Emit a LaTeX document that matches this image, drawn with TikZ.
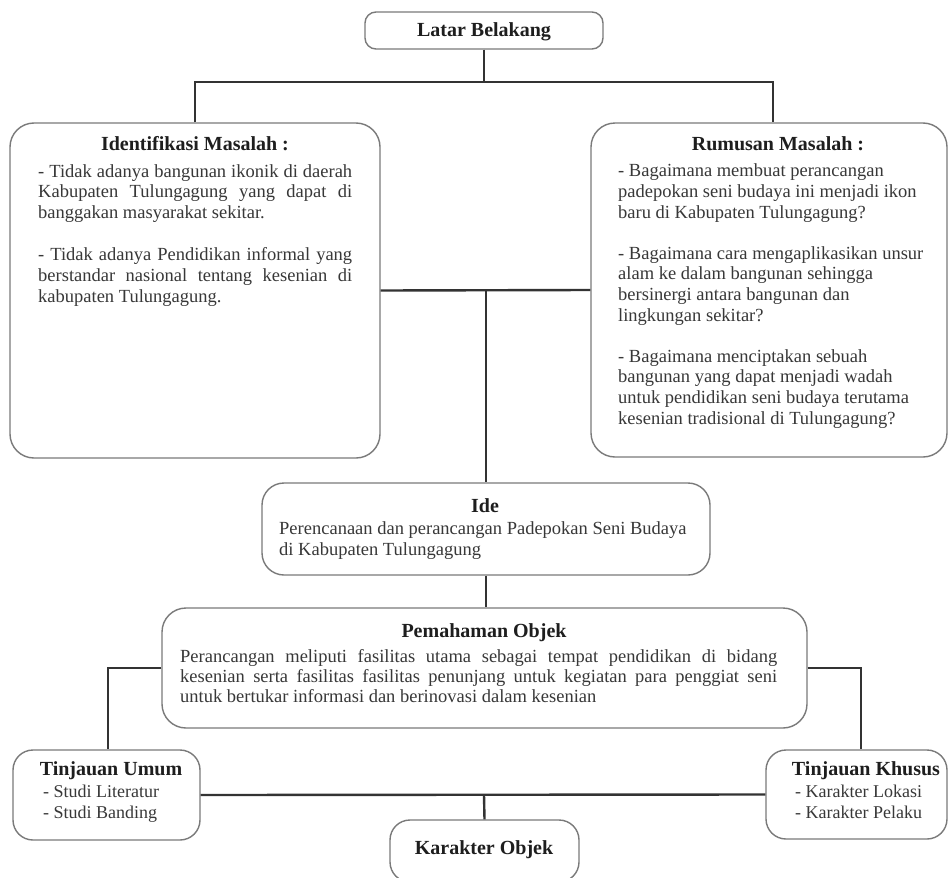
\documentclass[tikz,border=0pt]{standalone}
\usepackage{fontspec}
\setmainfont{Liberation Serif}
\definecolor{boxgray}{HTML}{7A7A7A}
\definecolor{wiregray}{HTML}{333333}
\definecolor{textcol}{HTML}{383838}
\definecolor{titlecol}{HTML}{1E1E1E}
\begin{document}
\begin{tikzpicture}[x=1pt,y=-1pt,
  box/.style={draw=boxgray,line width=1.4pt,rounded corners=#1,fill=white,inner sep=0pt},
  box/.default=20pt,
  wire/.style={draw=wiregray,line width=2.4pt},
  ttl/.style={font=\fontsize{20}{22}\selectfont\bfseries,text=titlecol,inner sep=0pt,anchor=base},
  body/.style={font=\fontsize{18.5}{20.6}\selectfont,text=textcol,inner sep=0pt,anchor=base west,align=left},
  small/.style={font=\fontsize{18}{20.5}\selectfont,text=textcol,inner sep=0pt,anchor=base west,align=left},
]
\useasboundingbox[fill=white] (0,0) rectangle (948,878);

% boxes
\node[box=11pt,minimum width=238pt,minimum height=37pt] (lb) at (484,30.5) {};
\node[box=24pt,minimum width=370pt,minimum height=335pt] (im) at (195,290.5) {};
\node[box=24pt,minimum width=356pt,minimum height=334pt] (rm) at (769,290) {};
\node[box=22pt,minimum width=448pt,minimum height=92pt] (ide) at (486,529) {};
\node[box=24pt,minimum width=645pt,minimum height=120pt] (pem) at (484.5,668) {};
\node[box=20pt,minimum width=187pt,minimum height=90pt] (tu) at (106.5,795) {};
\node[box=20pt,minimum width=181pt,minimum height=89pt] (tk) at (856.5,794.5) {};
\node[box=20pt,minimum width=189pt,minimum height=62pt] (ko) at (484.5,851) {};

% connectors
\coordinate (j1) at (484,82);
\coordinate (j2) at (486,290);
\coordinate (j3) at (484,795);
\draw[wire] (lb.south) -- (j1);
\draw[wire] (im.north) |- (j1) -| ([xshift=4pt]rm.north);
\draw[wire] (im.east) -- (rm.west);
\draw[wire] (j2) -- (ide.north);
\draw[wire] (ide.south) -- (ide.south |- pem.north);
\draw[wire] (pem.west) -| ([xshift=1.5pt]tu.north);
\draw[wire] (pem.east) -| ([xshift=4.5pt]tk.north);
\draw[wire] (tu.east) -- (tk.west);
\draw[wire] (j3) -- (ko.north);

% texts (multi-line nodes are placed by the baseline of their last line)
\node[ttl] (lbt) at (484,36) {Latar Belakang};

\node[ttl] (imt) at (195,150) {Identifikasi Masalah :};
\node[body] (imb) at (38,302) {%
\makebox[314pt][s]{- Tidak adanya bangunan ikonik di daerah}\\
\makebox[314pt][s]{Kabupaten Tulungagung yang dapat di}\\
banggakan masyarakat sekitar.\\[22pt]
\makebox[314pt][s]{- Tidak adanya Pendidikan informal yang}\\
\makebox[314pt][s]{berstandar nasional tentang kesenian di}\\
kabupaten Tulungagung.};

\node[ttl] (rmt) at (778,150) {Rumusan Masalah :};
\node[body] (rmb) at (618,424) {%
- Bagaimana membuat perancangan\\
padepokan seni budaya ini menjadi ikon\\
baru di Kabupaten Tulungagung?\\[20.6pt]
- Bagaimana cara mengaplikasikan unsur\\
alam ke dalam bangunan sehingga\\
bersinergi antara bangunan dan\\
lingkungan sekitar?\\[20.6pt]
- Bagaimana menciptakan sebuah\\
bangunan yang dapat menjadi wadah\\
untuk pendidikan seni budaya terutama\\
kesenian tradisional di Tulungagung?};

\node[ttl] (idet) at (485,512) {Ide};
\node[body] (ideb) at (279,555) {Perencanaan dan perancangan Padepokan Seni Budaya\\
di Kabupaten Tulungagung};

\node[ttl] (pemt) at (484,637) {Pemahaman Objek};
\node[body,font=\fontsize{18.5}{20}\selectfont] (pemb) at (180,702) {%
\makebox[597pt][s]{Perancangan meliputi fasilitas utama sebagai tempat pendidikan di bidang}\\
\makebox[597pt][s]{kesenian serta fasilitas fasilitas penunjang untuk kegiatan para penggiat seni}\\
untuk bertukar informasi dan berinovasi dalam kesenian};

\node[ttl] (tut) at (111,775) {Tinjauan Umum};
\node[small] (tub) at (43,818) {- Studi Literatur\\- Studi Banding};

\node[ttl] (tkt) at (866,775) {Tinjauan Khusus};
\node[small] (tkb) at (795,818) {- Karakter Lokasi\\- Karakter Pelaku};

\node[ttl] (kot) at (484,854) {Karakter Objek};
\end{tikzpicture}
\end{document}
